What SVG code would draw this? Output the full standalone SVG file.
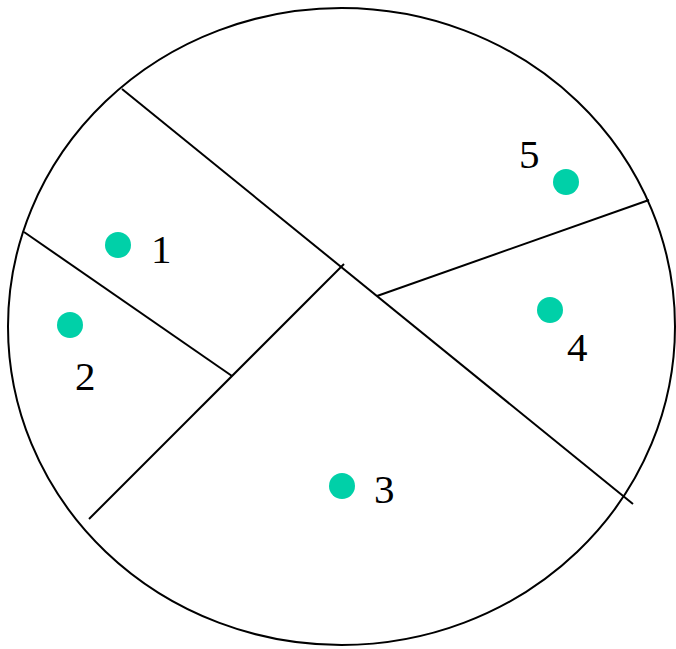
<svg xmlns="http://www.w3.org/2000/svg" width="676" height="649" viewBox="0 0 676 649">
<style>
.ln{stroke:#000;stroke-width:2;fill:none}
.dot{fill:#00d0a8}
.lb{font-family:"Liberation Serif","Times New Roman",serif;font-size:41px;fill:#000}
</style>
<rect width="676" height="649" fill="#fff"/>
<g id="boundary"><ellipse class="ln" cx="341.5" cy="326.5" rx="333.5" ry="318.5"/></g>
<g id="connectors">
<line class="ln" x1="122" y1="89" x2="633" y2="504"/>
<line class="ln" x1="24" y1="232" x2="232" y2="376"/>
<line class="ln" x1="89" y1="519" x2="344" y2="264"/>
<line class="ln" x1="377" y1="296" x2="649" y2="200"/>
</g>
<g id="n1"><circle class="dot" cx="118" cy="245" r="13"/><text class="lb" x="151" y="263">1</text></g>
<g id="n2"><circle class="dot" cx="70" cy="325" r="13"/><text class="lb" x="75" y="390">2</text></g>
<g id="n3"><circle class="dot" cx="342" cy="486" r="13"/><text class="lb" x="374" y="503">3</text></g>
<g id="n4"><circle class="dot" cx="550" cy="310" r="13"/><text class="lb" x="567" y="361">4</text></g>
<g id="n5"><circle class="dot" cx="566" cy="182" r="13"/><text class="lb" x="519" y="168">5</text></g>
</svg>
